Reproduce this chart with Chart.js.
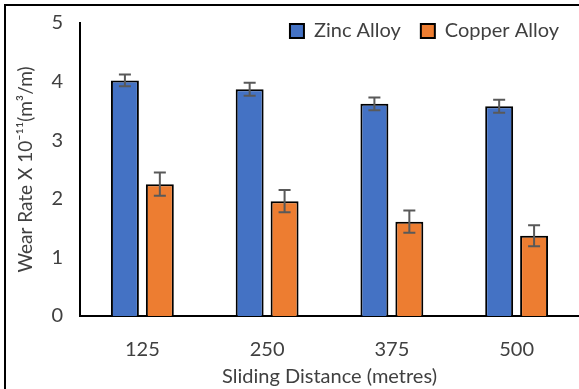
<!DOCTYPE html>
<html>
<head>
<meta charset="utf-8">
<script src="https://cdn.jsdelivr.net/npm/chart.js@4"></script>
<style>
  body { margin: 0; background: #fff; }
  #wrap { position: relative; width: 579px; height: 389px; }
  #frame { position: absolute; left: 4px; top: 4px; right: -4px; bottom: -4px;
           border-left: 2px solid #000; border-top: 2px solid #000; pointer-events: none; }
</style>
</head>
<body>
<div id="wrap">
  <canvas id="chart" width="579" height="389"></canvas>
  <div id="frame"></div>
</div>
<script>
// data
const distances = ["125", "250", "375", "500"];
const zincWear = [4.02, 3.87, 3.62, 3.58];
const zincErr = [0.10, 0.11, 0.11, 0.11];
const copperWear = [2.25, 1.96, 1.61, 1.37];
const copperErr = [0.20, 0.19, 0.19, 0.18];
const yTicks = [0, 1, 2, 3, 4, 5];

const textColor = "#404040";
const fontFamily = "Lato, 'Noto Sans', sans-serif";

// error bars drawn from the y scale
const errorBars = {
  id: "errorBars",
  afterDatasetsDraw(chart) {
    const ctx = chart.ctx;
    const y = chart.scales.y;
    chart.data.datasets.forEach((ds, i) => {
      const meta = chart.getDatasetMeta(i);
      meta.data.forEach((bar, j) => {
        const v = ds.data[j];
        const e = ds.errors[j];
        const top = y.getPixelForValue(v + e);
        const bot = y.getPixelForValue(v - e);
        ctx.save();
        ctx.strokeStyle = "#595959";
        ctx.lineWidth = 2;
        ctx.beginPath();
        ctx.moveTo(bar.x, top);
        ctx.lineTo(bar.x, bot);
        ctx.moveTo(bar.x - 6, top);
        ctx.lineTo(bar.x + 6, top);
        ctx.moveTo(bar.x - 6, bot);
        ctx.lineTo(bar.x + 6, bot);
        ctx.stroke();
        ctx.restore();
      });
    });
  }
};

// legend sits inside the plot area, so it takes no room
const legendInside = {
  id: "legendInside",
  beforeInit(chart) {
    const fit = chart.legend.fit;
    chart.legend.fit = function () {
      fit.bind(chart.legend)();
      this.height = 0;
    };
  },
  afterLayout(chart) {
    const lg = chart.legend;
    lg.top = 1;
    lg.height = 60;
    lg.bottom = 61;
  }
};

const config = {
  type: "bar",
  data: {
    labels: distances,
    datasets: [
      {
        label: "Zinc Alloy",
        data: zincWear,
        errors: zincErr,
        backgroundColor: "#4472C4",
        borderColor: "#000",
        borderWidth: 2,
        categoryPercentage: 0.56,
        barPercentage: 0.8
      },
      {
        label: "Copper Alloy",
        data: copperWear,
        errors: copperErr,
        backgroundColor: "#ED7D31",
        borderColor: "#000",
        borderWidth: 2,
        categoryPercentage: 0.56,
        barPercentage: 0.8
      }
    ]
  },
  options: {
    responsive: false,
    animation: false,
    layout: { padding: { left: 8, top: 23, right: 0, bottom: 0 } },
    plugins: {
      legend: {
        align: "end",
        labels: {
          boxWidth: 14,
          boxHeight: 14,
          padding: 20,
          color: textColor,
          font: { family: fontFamily, size: 20 }
        }
      },
      tooltip: { enabled: false }
    },
    scales: {
      x: {
        afterFit: (s) => { s.height = 73; },
        grid: { display: false, drawTicks: false },
        border: { display: true, color: "#000", width: 2 },
        ticks: { color: textColor, padding: 22, font: { family: fontFamily, size: 20 } },
        title: {
          display: true,
          text: "Sliding Distance (metres)",
          color: textColor,
          padding: { top: 0, bottom: 0 },
          font: { family: fontFamily, size: 20 }
        }
      },
      y: {
        min: 0,
        max: 5,
        afterBuildTicks: (s) => { s.ticks = yTicks.map((v) => ({ value: v })); },
        afterFit: (s) => { s.width = 72; s.paddingTop = 0; s.paddingBottom = 0; },
        grid: { display: false, drawTicks: false },
        border: { display: true, color: "#000", width: 2 },
        ticks: { color: textColor, padding: 17, font: { family: fontFamily, size: 20 } },
        title: {
          display: true,
          text: "Wear Rate X 10⁻¹¹(m³/m)",
          color: textColor,
          padding: { top: 6, bottom: 0 },
          font: { family: fontFamily, size: 19 }
        }
      }
    }
  },
  plugins: [errorBars, legendInside]
};

const myChart = new Chart(document.getElementById("chart"), config);
</script>
</body>
</html>
